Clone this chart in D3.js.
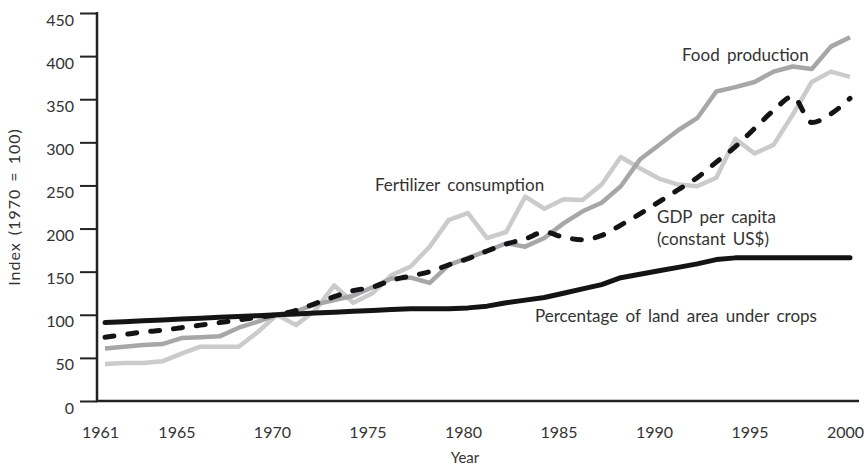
<!DOCTYPE html>
<html>
<head>
<meta charset="UTF-8">
<title>Index 1970 = 100</title>
<style>
  body { margin: 0; background: #fff; }
  text { font-family: Lato, "Open Sans", sans-serif; fill: #333; }
</style>
</head>
<body>
<svg width="867" height="468"></svg>
<script src="https://cdn.jsdelivr.net/npm/d3@7/dist/d3.min.js"></script>
<script>
// data, index 1970 = 100
var years = d3.range(1961, 2001);
var food = [61, 63, 65, 66, 73, 74, 75, 85, 92, 100,
            104, 112, 117, 122, 132, 142, 143, 137, 158, 166,
            174, 183, 179, 189, 206, 220, 230, 249, 280, 297,
            314, 328, 359, 364, 370, 382, 388, 385, 411, 422];
var fertilizer = [43, 44, 44, 46, 55, 63, 63, 63, 80, 100,
                  88, 105, 134, 114, 125, 146, 156, 179, 210, 218,
                  189, 196, 237, 223, 234, 233, 251, 283, 270, 258,
                  251, 249, 259, 304, 287, 297, 332, 370, 382, 376];
var gdp = [74, 77, 80, 82, 85, 88, 91, 94, 97, 100,
           105, 113, 121, 128, 132, 140, 145, 150, 158, 165,
           174, 182, 188, 196, 190, 187, 192, 204, 217, 231,
           245, 259, 277, 295, 316, 337, 353, 323, 333, 351];
var land = [91, 92, 93, 94, 95, 96, 97, 98, 99, 100,
            101, 102, 103, 104, 105, 106, 107, 107, 107, 108,
            110, 114, 117, 120, 125, 130, 135, 143, 147, 151,
            155, 159, 164, 166, 166, 166, 166, 166, 166, 166];
var xTicks = [1961, 1965, 1970, 1975, 1980, 1985, 1990, 1995, 2000];
var yTicks = [0, 50, 100, 150, 200, 250, 300, 350, 400, 450];

var svg = d3.select('svg');
var x = d3.scaleLinear().domain([1961, 2000]).range([105, 850]);
var y = d3.scaleLinear().domain([0, 450]).range([401, 13]);

// axes
var yAxis = svg.append('g').attr('transform', 'translate(97,0)')
  .call(d3.axisLeft(y).tickValues(yTicks).tickSize(17).tickPadding(6));
var xAxis = svg.append('g').attr('transform', 'translate(0,401)')
  .call(d3.axisBottom(x).tickValues(xTicks).tickFormat(d3.format('d')).tickSize(0).tickPadding(26));

[yAxis, xAxis].forEach(function (g) {
  g.select('.domain').remove();
  g.selectAll('line').attr('stroke', '#222').attr('stroke-width', 2);
  g.selectAll('text').style('font-size', '16px').attr('fill', '#333');
});
yAxis.selectAll('text').attr('dy', '0.75em');
xAxis.selectAll('text').attr('dx', -5);

svg.append('line').attr('x1', 97).attr('x2', 97).attr('y1', 12).attr('y2', 402)
  .attr('stroke', '#222').attr('stroke-width', 2.5);
svg.append('line').attr('x1', 96).attr('x2', 859).attr('y1', 401).attr('y2', 401)
  .attr('stroke', '#222').attr('stroke-width', 2.5);

// lines
var line = d3.line().x(function (d, i) { return x(years[i]); }).y(function (d) { return y(d); });

svg.append('path').datum(fertilizer).attr('d', line)
  .attr('fill', 'none').attr('stroke', '#cbcbcb').attr('stroke-width', 4.5).attr('stroke-linejoin', 'round');
svg.append('path').datum(food).attr('d', line)
  .attr('fill', 'none').attr('stroke', '#a7a7aa').attr('stroke-width', 4.5).attr('stroke-linejoin', 'round');
svg.append('path').datum(land).attr('d', line)
  .attr('fill', 'none').attr('stroke', '#141414').attr('stroke-width', 5).attr('stroke-linejoin', 'round').attr('stroke-linecap', 'round');
svg.append('path').datum(gdp).attr('d', d3.line().curve(d3.curveMonotoneX).x(function (d, i) { return x(years[i]); }).y(function (d) { return y(d); }))
  .attr('fill', 'none').attr('stroke', '#141414').attr('stroke-width', 5)
  .attr('stroke-dasharray', '9,14').attr('stroke-linecap', 'round');

// labels
var labels = [
  {t: 'Food production', x: 682, y: 61},
  {t: 'Fertilizer consumption', x: 375, y: 191},
  {t: 'GDP per capita', x: 657, y: 223},
  {t: '(constant US$)', x: 657, y: 245},
  {t: 'Percentage of land area under crops', x: 535, y: 322}
];
svg.selectAll('.lab').data(labels).enter().append('text').attr('class', 'lab')
  .attr('x', function (d) { return d.x; }).attr('y', function (d) { return d.y; })
  .style('font-size', '17px').style('word-spacing', '3px').text(function (d) { return d.t; });

svg.append('text').attr('x', 465).attr('y', 463).attr('text-anchor', 'middle')
  .style('font-size', '15px').text('Year');
svg.append('text').attr('transform', 'translate(20,207) rotate(-90)').attr('text-anchor', 'middle')
  .style('font-size', '16px').style('letter-spacing', '1px').style('word-spacing', '2px')
  .text('Index (1970 = 100)');
</script>
</body>
</html>
